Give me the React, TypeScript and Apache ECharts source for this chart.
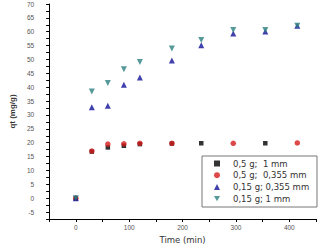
import React, { useEffect, useRef } from "react";
import * as echarts from "echarts";

const timesAll = [0, 30, 60, 90, 120, 180, 235, 295, 355, 415];
const timesSquare = [0, 30, 60, 90, 120, 180, 235, 355];
const valuesSquare = [0, 16.8, 18.3, 18.9, 19.5, 19.7, 19.8, 19.8];
const timesCircle = [0, 30, 60, 90, 120, 180, 295, 415];
const valuesCircle = [0, 17.0, 19.5, 19.6, 19.8, 19.8, 19.8, 19.9];
const valuesUp = [0, 32.8, 33.3, 40.9, 43.5, 49.6, 55.1, 59.4, 60.1, 62.2];
const valuesDown = [0, 38.5, 41.5, 46.5, 49.1, 54.0, 57.0, 60.6, 60.6, 62.2];
const seriesNames = ["0,5 g;  1 mm", "0,5 g;  0,355 mm", "0,15 g; 0,355 mm", "0,15 g; 1 mm"];

const pair = (xs: number[], ys: number[]) => xs.map((x, i) => [x, ys[i]]);

const FONT = "Liberation Sans";
const WIDE = "DejaVu Sans";

export default function App() {
  const ref = useRef<HTMLDivElement>(null);
  useEffect(() => {
    if (!ref.current) return;
    const chart = echarts.init(ref.current, null, { renderer: "svg" });
    chart.setOption({
      animation: false,
      backgroundColor: "#ffffff",
      grid: { left: 34, right: 4, top: 4, bottom: 31 },
      xAxis: {
        type: "value",
        min: -50,
        max: 450,
        interval: 50,
        name: "Time (min)",
        nameLocation: "middle",
        nameGap: 16,
        nameTextStyle: { fontFamily: WIDE, fontSize: 8.5, color: "#333" },
        axisLine: { show: true, onZero: false, lineStyle: { color: "#000", width: 1 } },
        axisTick: { show: true, inside: false, length: 3, lineStyle: { color: "#000" } },
        axisLabel: {
          fontFamily: FONT,
          fontSize: 6.5,
          color: "#555",
          margin: 5,
          formatter: (v: number) => (v % 100 === 0 ? String(v) : ""),
        },
        splitLine: { show: false },
      },
      yAxis: {
        type: "value",
        min: -7.5,
        max: 70,
        interval: 2.5,
        name: "qt (mg/g)",
        nameLocation: "middle",
        nameGap: 23,
        nameTextStyle: { fontFamily: FONT, fontSize: 8, fontWeight: "bold", color: "#333" },
        axisLine: { show: true, onZero: false, lineStyle: { color: "#000", width: 1 } },
        axisTick: { show: true, inside: false, length: 3, lineStyle: { color: "#000" } },
        axisLabel: {
          fontFamily: FONT,
          fontSize: 6.5,
          color: "#555",
          margin: 15,
          formatter: (v: number) => (Math.abs(v % 5) < 1e-9 ? String(v) : ""),
        },
        splitLine: { show: false },
      },
      legend: {
        orient: "vertical",
        left: 214,
        top: 159,
        itemWidth: 6,
        itemHeight: 6,
        itemGap: 2.7,
        padding: 0,
        textStyle: {
          fontFamily: WIDE,
          fontSize: 8.5,
          lineHeight: 9,
          color: "#333",
          padding: [0, 0, 0, 8],
        },
        data: seriesNames,
      },
      graphic: [
        {
          type: "rect",
          shape: { x: 202, y: 156, width: 115, height: 51 },
          style: { fill: "none", stroke: "#777", lineWidth: 1 },
          z: 100,
        },
      ],
      series: [
        {
          name: seriesNames[0],
          type: "scatter",
          symbol: "rect",
          symbolSize: 4.5,
          itemStyle: { color: "#000000" },
          data: pair(timesSquare, valuesSquare),
        },
        {
          name: seriesNames[1],
          type: "scatter",
          symbol: "circle",
          symbolSize: 5.5,
          itemStyle: { color: "#d41a1a" },
          data: pair(timesCircle, valuesCircle),
        },
        {
          name: seriesNames[2],
          type: "scatter",
          symbol: "triangle",
          symbolSize: 6,
          itemStyle: { color: "#12129a" },
          data: pair(timesAll, valuesUp),
        },
        {
          name: seriesNames[3],
          type: "scatter",
          symbol: "path://M0,0 L10,0 L5,9 Z",
          symbolSize: 6,
          itemStyle: { color: "#2b8080" },
          data: pair(timesAll, valuesDown),
        },
      ],
    });
    return () => chart.dispose();
  }, []);
  return (
    <div
      ref={ref}
      style={{ position: "fixed", left: 0, top: 0, width: 320, height: 250 }}
    />
  );
}
